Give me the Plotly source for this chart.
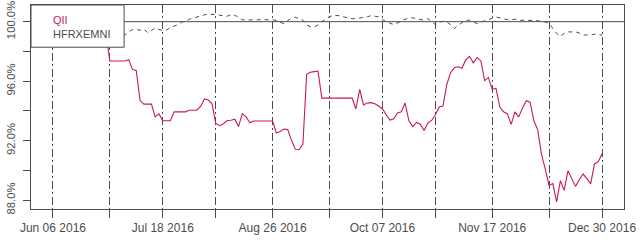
import pandas as pd
import plotly.graph_objects as go

# Trading days Jun 06 2016 .. Dec 30 2016 (NYSE holidays removed)
holidays = ["2016-07-04", "2016-09-05", "2016-11-24", "2016-12-26"]
dates = [d for d in pd.bdate_range("2016-06-06", "2016-12-30") if d.strftime("%Y-%m-%d") not in holidays]
date_labels = [d.strftime("%Y-%m-%d") for d in dates]

qii = [
    100.00, 100.10, 100.05, 99.95, 99.90, 99.85, 99.80, 99.75, 99.70, 99.65,
    99.60, 99.55, 99.50, 99.45, 99.30, 97.36, 97.36, 97.36, 97.36, 97.36,
    97.45, 96.79, 96.70, 94.70, 94.46, 94.46, 94.46, 93.60, 93.80, 93.34,
    93.32, 93.34, 93.94, 93.94, 93.94, 93.94, 94.05, 94.05, 94.05, 94.30,
    94.81, 94.73, 94.48, 93.16, 93.01, 93.14, 93.36, 93.37, 93.45, 92.95,
    93.82, 93.60, 93.20, 93.32, 93.32, 93.32, 93.32, 93.32, 93.32, 92.52,
    92.62, 92.78, 92.75, 92.02, 91.43, 91.41, 91.76, 96.46, 96.60, 96.64,
    96.68, 94.86, 94.86, 94.86, 94.86, 94.86, 94.86, 94.86, 94.86, 94.86,
    94.13, 95.45, 94.40, 94.53, 94.56, 94.48, 94.33, 94.15, 93.74, 93.39,
    93.47, 93.87, 93.94, 94.53, 93.34, 92.95, 93.23, 93.11, 92.68, 93.18,
    93.36, 93.74, 94.26, 94.33, 95.78, 96.57, 96.90, 96.97, 96.87, 97.43,
    97.67, 97.23, 97.59, 97.36, 96.04, 96.24, 95.45, 95.52, 94.26, 93.94,
    93.80, 93.10, 93.94, 93.60, 94.20, 94.69, 94.59, 93.34, 92.75, 91.10,
    90.11, 88.99, 89.12, 87.89, 89.32, 88.66, 89.98, 89.45, 88.93, 89.39,
    89.76, 89.45, 89.10, 90.44, 90.59, 91.12,
]

hfrx = [
    100.00, 100.05, 99.95, 99.90, 99.95, 99.85, 99.80, 99.75, 99.70, 99.65,
    99.55, 99.50, 99.45, 99.40, 99.35, 99.30, 99.25, 99.20, 99.15, 99.10,
    99.31, 99.47, 99.47, 99.43, 99.51, 99.27, 99.41, 99.57, 99.47, 99.41,
    99.44, 99.60, 99.70, 99.80, 99.97, 100.03, 100.16, 100.23, 100.31, 100.42,
    100.46, 100.49, 100.49, 100.49, 100.43, 100.40, 100.36, 100.49, 100.43, 100.30,
    100.13, 100.10, 100.13, 100.13, 100.13, 100.13, 100.13, 100.13, 100.13, 100.07,
    99.97, 99.87, 100.07, 100.23, 100.30, 100.20, 100.10, 99.77, 99.67, 99.64,
    99.77, 100.00, 100.16, 100.33, 100.42, 100.42, 100.40, 100.31, 100.23, 100.20,
    100.20, 100.23, 100.30, 100.33, 100.40, 100.36, 100.33, 100.13, 100.00, 99.90,
    99.80, 99.93, 100.07, 100.16, 100.23, 100.26, 100.20, 100.13, 100.10, 100.20,
    100.00, 99.80, 99.97, 100.03, 99.98, 99.80, 99.54, 99.77, 99.93, 100.09,
    100.10, 99.97, 99.87, 99.97, 100.03, 100.13, 100.23, 100.31, 100.26, 100.20,
    100.13, 100.13, 100.16, 100.10, 100.09, 100.07, 100.05, 100.05, 100.07, 100.00,
    99.98, 99.90, 99.54, 99.21, 99.01, 99.21, 99.31, 99.32, 99.31, 99.24,
    99.11, 99.10, 99.10, 99.16, 99.11, 99.10,
]

series_names = ["QII", "HFRXEMNI"]
series_colors = ["#C8185A", "#4D4D4D"]

tick_idx = [0, 15, 29, 43, 58, 73, 87, 101, 116, 131, 145]
label_idx = [0, 29, 58, 87, 116, 145]
x_tickvals = [date_labels[i] for i in tick_idx]
x_ticktext = [dates[i].strftime("%b %d %Y") if i in label_idx else "" for i in tick_idx]

y_tickvals = [88, 90, 92, 94, 96, 98, 100]
y_ticktext = ["88.0%", "", "92.0%", "", "96.0%", "", "100.0%"]
ref_level = 100

axis_col = "#4D4D4D"
font_fam = "Liberation Sans, Arial, sans-serif"

fig = go.Figure()
fig.add_trace(go.Scatter(x=date_labels, y=qii, mode="lines", name=series_names[0],
                         line=dict(color=series_colors[0], width=1.1)))
fig.add_trace(go.Scatter(x=date_labels, y=hfrx, mode="lines", name=series_names[1],
                         line=dict(color=series_colors[1], width=1, dash="4px,4px")))

fig.add_shape(type="line", xref="paper", yref="y", x0=0, x1=1, y0=ref_level, y1=ref_level,
              line=dict(color=axis_col, width=1), layer="below")

# legend box (text only, as in the reference)
fig.add_shape(type="rect", xref="paper", yref="paper", x0=0, x1=0.157, y0=0.793, y1=1,
              line=dict(color=axis_col, width=1), fillcolor="white", layer="above")
fig.add_annotation(xref="paper", yref="paper", x=0.034, y=0.928, xanchor="left", yanchor="middle",
                   text=series_names[0], showarrow=False,
                   font=dict(family=font_fam, size=11, color=series_colors[0]))
fig.add_annotation(xref="paper", yref="paper", x=0.034, y=0.856, xanchor="left", yanchor="middle",
                   text=series_names[1], showarrow=False,
                   font=dict(family=font_fam, size=11, color=series_colors[1]))

fig.update_layout(
    width=640, height=240,
    margin=dict(l=31, r=16, t=1, b=31, pad=0),
    paper_bgcolor="white", plot_bgcolor="white",
    showlegend=False,
    font=dict(family=font_fam, size=12, color=axis_col),
)
fig.update_xaxes(
    type="category", range=[-5.8, 150.8],
    tickmode="array", tickvals=x_tickvals, ticktext=x_ticktext,
    ticks="outside", ticklen=8, tickcolor=axis_col, tickwidth=1,
    showgrid=True, gridcolor=axis_col, gridwidth=1, griddash="8px,3px,2px,3px",
    showline=True, linecolor=axis_col, linewidth=1, mirror=True,
    tickfont=dict(size=12, color=axis_col), zeroline=False,
)
fig.update_yaxes(
    range=[87.41, 101.12],
    tickmode="array", tickvals=y_tickvals, ticktext=y_ticktext,
    ticks="outside", ticklen=7, tickcolor=axis_col, tickwidth=1, tickangle=-90,
    ticklabeloverflow="allow", ticklabelstandoff=3,
    showgrid=False, zeroline=False,
    showline=True, linecolor=axis_col, linewidth=1, mirror=True,
    tickfont=dict(size=11.3, color=axis_col),
)

fig.write_html("out.html")
